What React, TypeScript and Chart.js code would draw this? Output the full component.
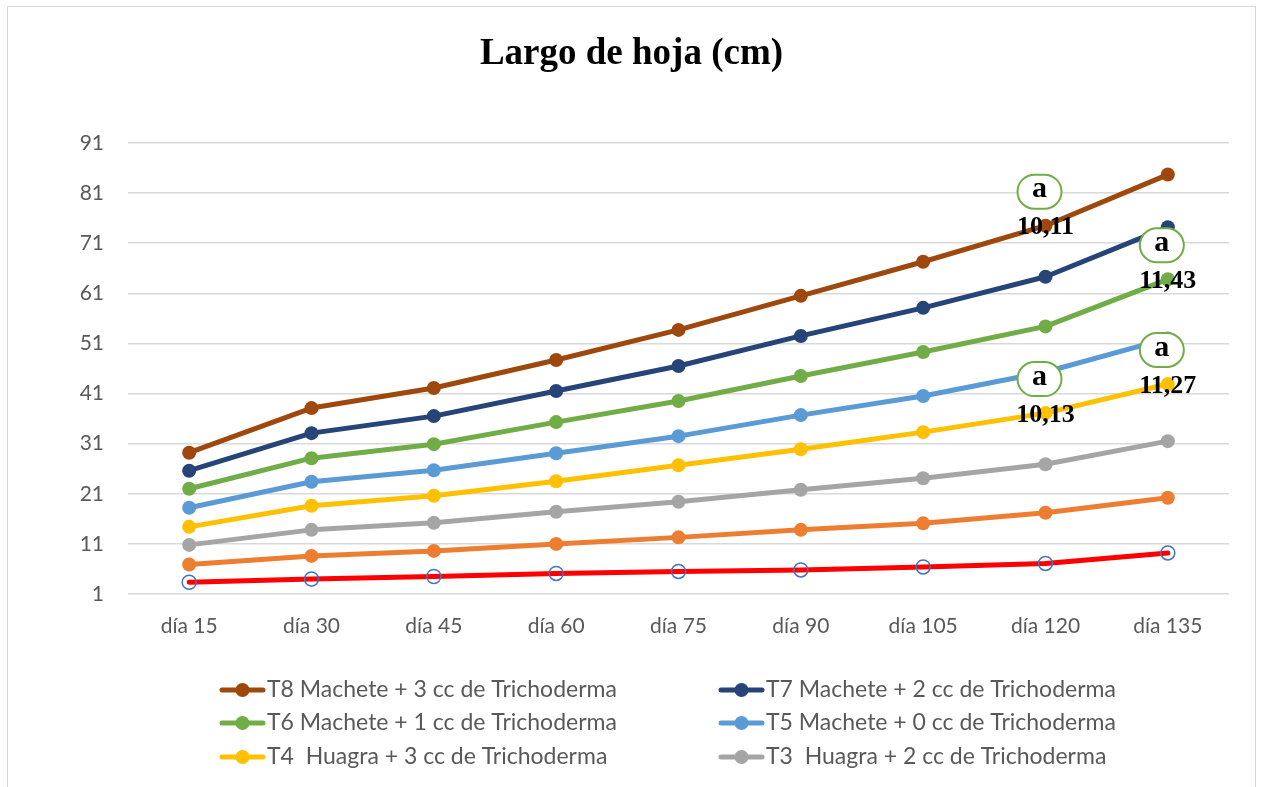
import { useEffect, useRef } from 'react';
import { Chart, registerables } from 'chart.js';

Chart.register(...registerables);

const chartTitle = 'Largo de hoja (cm)';
const categories = ['día 15', 'día 30', 'día 45', 'día 60', 'día 75', 'día 90', 'día 105', 'día 120', 'día 135'];
const yTickValues = [1, 11, 21, 31, 41, 51, 61, 71, 81, 91];

const seriesLabels = [
  'T8 Machete + 3 cc de Trichoderma',
  'T7 Machete + 2 cc de Trichoderma',
  'T6 Machete + 1 cc de Trichoderma',
  'T5 Machete + 0 cc de Trichoderma',
  'T4  Huagra + 3 cc de Trichoderma',
  'T3  Huagra + 2 cc de Trichoderma',
  'T2  Huagra + 1 cc de Trichoderma',
  'T1  Huagra + 0 cc de Trichoderma',
];
const t8 = [29.2, 38.1, 42.1, 47.7, 53.7, 60.5, 67.3, 74.5, 84.7];
const t7 = [25.6, 33.1, 36.5, 41.5, 46.5, 52.5, 58.1, 64.3, 74.2];
const t6 = [22.0, 28.1, 30.9, 35.3, 39.5, 44.5, 49.3, 54.4, 63.8];
const t5 = [18.2, 23.4, 25.7, 29.1, 32.5, 36.7, 40.5, 45.3, 52.0];
const t4 = [14.4, 18.6, 20.6, 23.5, 26.7, 29.9, 33.3, 37.1, 42.9];
const t3 = [10.8, 13.8, 15.2, 17.4, 19.4, 21.8, 24.1, 26.9, 31.5];
const t2 = [6.9, 8.6, 9.6, 11.0, 12.3, 13.8, 15.1, 17.2, 20.2];
const t1 = [3.35, 4.0, 4.5, 5.1, 5.5, 5.8, 6.4, 7.1, 9.2];
const seriesValues = [t8, t7, t6, t5, t4, t3, t2, t1];
const seriesColors = ['#9E480E', '#264478', '#70AD47', '#5B9BD5', '#FFC000', '#A5A5A5', '#ED7D31', '#FF0000'];
const legendShown = 6;

// annotations: series index, category index, value text, letter
const annotationSeries = [0, 2, 4, 4];
const annotationIndex = [7, 8, 7, 8];
const annotationText = ['10,11', '11,43', '10,13', '11,27'];
const annotationLetter = ['a', 'a', 'a', 'a'];

const tickFont = 'Lato';
const textGray = '#595959';

const titlePlugin = {
  id: 'customTitle',
  afterDraw(chart: any) {
    const { ctx, width } = chart;
    ctx.save();
    ctx.font = 'bold 37px "Liberation Serif"';
    ctx.fillStyle = '#000';
    ctx.textAlign = 'center';
    ctx.textBaseline = 'alphabetic';
    ctx.fillText(chartTitle, width / 2, 57);
    ctx.restore();
  },
};

const annotationPlugin = {
  id: 'letterAnnotations',
  afterDatasetsDraw(chart: any) {
    const { ctx } = chart;
    ctx.save();
    for (let i = 0; i < annotationText.length; i++) {
      const meta = chart.getDatasetMeta(annotationSeries[i]);
      const pt = meta.data[annotationIndex[i]];
      if (!pt) continue;
      const x = pt.x;
      const y = pt.y;
      const bw = 44, bh = 34;
      const bx = x - 6 - bw / 2;
      const by = y - 34 - bh / 2;
      ctx.beginPath();
      ctx.roundRect(bx, by, bw, bh, 17);
      ctx.fillStyle = '#ffffff';
      ctx.fill();
      ctx.lineWidth = 2;
      ctx.strokeStyle = '#70AD47';
      ctx.stroke();
      ctx.fillStyle = '#000';
      ctx.textAlign = 'center';
      ctx.textBaseline = 'middle';
      ctx.font = 'bold 30px "Liberation Serif"';
      ctx.fillText(annotationLetter[i], x - 6, y - 36);
      ctx.font = 'bold 26px "Liberation Serif"';
      ctx.fillText(annotationText[i], x, y + 2);
    }
    ctx.restore();
  },
};

const legendPlugin = {
  id: 'customLegend',
  afterDraw(chart: any) {
    const { ctx } = chart;
    const colX = [214, 713];
    const rowY = [683, 716, 750];
    ctx.save();
    ctx.font = `23px ${tickFont}`;
    ctx.textBaseline = 'middle';
    ctx.textAlign = 'left';
    for (let i = 0; i < legendShown; i++) {
      const cx = colX[i % 2];
      const cy = rowY[Math.floor(i / 2)];
      const color = seriesColors[i];
      ctx.strokeStyle = color;
      ctx.lineWidth = 5;
      ctx.lineCap = 'round';
      ctx.beginPath();
      ctx.moveTo(cx, cy);
      ctx.lineTo(cx + 41, cy);
      ctx.stroke();
      ctx.fillStyle = color;
      ctx.beginPath();
      ctx.arc(cx + 20.5, cy, 7, 0, Math.PI * 2);
      ctx.fill();
      ctx.fillStyle = textGray;
      ctx.fillText(seriesLabels[i], cx + 45, cy);
    }
    ctx.restore();
  },
};

export default function App() {
  const ref = useRef<HTMLCanvasElement>(null);
  useEffect(() => {
    const canvas = ref.current;
    if (!canvas) return;
    const datasets = seriesValues.map((vals, i) => {
      const isRed = i === seriesValues.length - 1;
      return {
        label: seriesLabels[i],
        data: vals,
        borderColor: seriesColors[i],
        backgroundColor: seriesColors[i],
        borderWidth: 5,
        borderCapStyle: 'round' as const,
        borderJoinStyle: 'round' as const,
        pointRadius: 7,
        pointHoverRadius: 7,
        pointBackgroundColor: isRed ? 'rgba(0,0,0,0)' : seriesColors[i],
        pointBorderColor: isRed ? '#4472C4' : seriesColors[i],
        pointBorderWidth: isRed ? 1.5 : 0,
        tension: 0,
        fill: false,
      };
    });
    const chart = new Chart(canvas, {
      type: 'line',
      data: { labels: categories, datasets },
      options: {
        responsive: false,
        animation: false,
        layout: { padding: { top: 136, right: 26, bottom: 153, left: 0 } },
        plugins: {
          legend: { display: false },
          title: { display: false },
          tooltip: { enabled: false },
        },
        scales: {
          x: {
            offset: true,
            grid: { display: false, drawTicks: false, offset: true },
            border: { display: false },
            ticks: { color: textGray, font: { family: tickFont, size: 21 }, padding: 20, maxRotation: 0 },
            afterFit: (s: any) => { s.height = 60; },
          },
          y: {
            min: 1,
            max: 91,
            grid: { color: '#D9D9D9', lineWidth: 1.5, drawTicks: false },
            border: { display: false },
            ticks: { color: textGray, font: { family: tickFont, size: 21 }, padding: 24 },
            afterBuildTicks: (s: any) => { s.ticks = yTickValues.map((v) => ({ value: v })); },
            afterFit: (s: any) => { s.width = 120; },
          },
        },
      },
      plugins: [titlePlugin, annotationPlugin, legendPlugin],
    });
    return () => chart.destroy();
  }, []);
  return (
    <div
      style={{
        position: 'fixed',
        left: 7,
        top: 6,
        width: 1247,
        height: 800,
        border: '1px solid #D9D9D9',
        overflow: 'hidden',
        background: '#fff',
      }}
    >
      <canvas ref={ref} width={1247} height={800} style={{ display: 'block', width: 1247, height: 800 }} />
    </div>
  );
}
